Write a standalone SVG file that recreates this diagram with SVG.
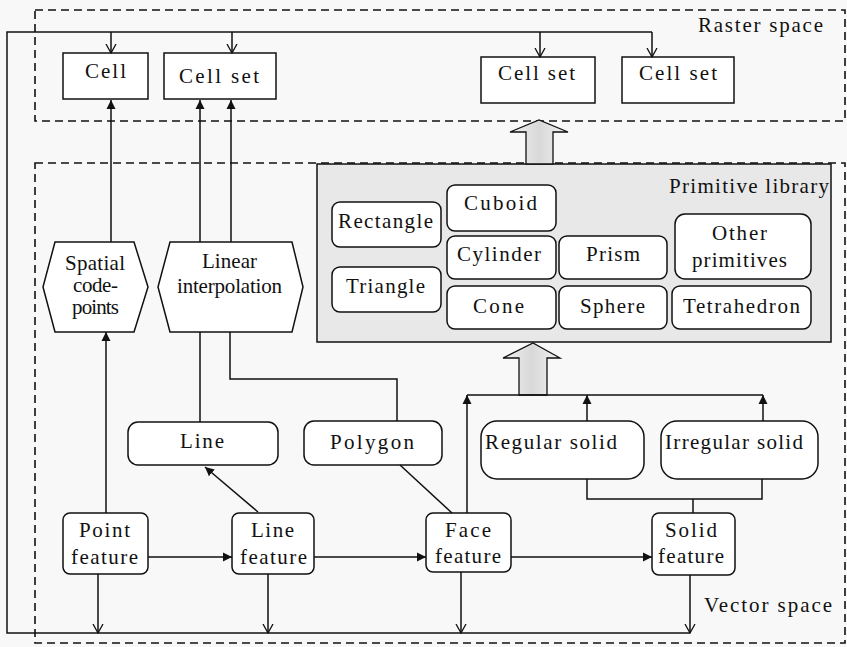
<svg xmlns="http://www.w3.org/2000/svg" width="847" height="647" viewBox="0 0 847 647">
<defs>
<style>
text{font-family:"Liberation Serif","Times New Roman",serif;font-size:21px;fill:#111}
.box{fill:#fff;stroke:#111;stroke-width:1.5}
.dash{fill:none;stroke:#111;stroke-width:1.6;stroke-dasharray:8 5}
.c{fill:none;stroke:#111;stroke-width:1.5}
.big{fill:url(#g);stroke:#111;stroke-width:1.3}
</style>
<linearGradient id="g" x1="0" y1="0" x2="1" y2="0">
<stop offset="0" stop-color="#f2f2f2"/><stop offset="0.5" stop-color="#d8d8d8"/><stop offset="1" stop-color="#f2f2f2"/>
</linearGradient>
<marker id="af" markerUnits="userSpaceOnUse" markerWidth="10" markerHeight="10" refX="9" refY="4.5" orient="auto" viewBox="0 0 10 9">
<path d="M0,0 L9,4.5 L0,9 z" fill="#111"/>
</marker>
<marker id="ao" markerUnits="userSpaceOnUse" markerWidth="10" markerHeight="12" refX="9" refY="5" orient="auto" viewBox="0 0 10 10">
<path d="M0,0 L9,5 L0,10" fill="none" stroke="#111" stroke-width="1.3"/>
</marker>
</defs>
<rect width="847" height="647" fill="#f8f8f8"/>

<g id="raster-space">
<rect class="dash" x="35" y="10" width="810" height="111"/>
<text x="698" y="32" textLength="125" lengthAdjust="spacing">Raster space</text>
</g>
<g id="vector-space">
<rect class="dash" x="35" y="163" width="810" height="480"/>
<text x="704" y="612" textLength="128" lengthAdjust="spacing">Vector space</text>
</g>

<g id="primitive-library">
<rect x="317" y="164" width="514" height="178" fill="#e8e8e8" stroke="#111" stroke-width="1.5"/>
<text x="669" y="193" textLength="160" lengthAdjust="spacing">Primitive library</text>
</g>
<g id="rectangle"><rect class="box" x="332" y="202" width="109" height="45" rx="8"/><text x="338" y="228" textLength="95" lengthAdjust="spacing">Rectangle</text></g>
<g id="triangle"><rect class="box" x="332" y="267" width="109" height="45" rx="8"/><text x="346" y="293" textLength="79" lengthAdjust="spacing">Triangle</text></g>
<g id="cuboid"><rect class="box" x="447" y="185" width="109" height="46" rx="8"/><text x="464" y="210" textLength="73" lengthAdjust="spacing">Cuboid</text></g>
<g id="cylinder"><rect class="box" x="447" y="236" width="109" height="43" rx="8"/><text x="457" y="261" textLength="84" lengthAdjust="spacing">Cylinder</text></g>
<g id="cone"><rect class="box" x="447" y="286" width="109" height="43" rx="8"/><text x="473" y="313" textLength="51" lengthAdjust="spacing">Cone</text></g>
<g id="prism"><rect class="box" x="559" y="236" width="108" height="43" rx="8"/><text x="586" y="261" textLength="54" lengthAdjust="spacing">Prism</text></g>
<g id="sphere"><rect class="box" x="559" y="286" width="108" height="43" rx="8"/><text x="580" y="313" textLength="65" lengthAdjust="spacing">Sphere</text></g>
<g id="other-primitives"><rect class="box" x="675" y="214" width="136" height="65" rx="10"/><text x="712" y="240" textLength="55" lengthAdjust="spacing">Other</text><text x="692" y="267" textLength="95" lengthAdjust="spacing">primitives</text></g>
<g id="tetrahedron"><rect class="box" x="672" y="286" width="139" height="43" rx="8"/><text x="683" y="313" textLength="117" lengthAdjust="spacing">Tetrahedron</text></g>

<g id="cell"><rect class="box" x="63" y="53" width="85" height="46"/><text x="85" y="78" textLength="41" lengthAdjust="spacing">Cell</text></g>
<g id="cell-set-1"><rect class="box" x="164" y="53" width="112" height="46"/><text x="179" y="83" textLength="80" lengthAdjust="spacing">Cell set</text></g>
<g id="cell-set-2"><rect class="box" x="481" y="57" width="114" height="46"/><text x="498" y="80" textLength="77" lengthAdjust="spacing">Cell set</text></g>
<g id="cell-set-3"><rect class="box" x="622" y="57" width="112" height="46"/><text x="639" y="80" textLength="78" lengthAdjust="spacing">Cell set</text></g>

<g id="spatial-code-points"><polygon class="box" points="55,242 134,242 148,287 134,332 55,332 43,287"/><text x="65" y="270" textLength="60" lengthAdjust="spacing">Spatial</text><text x="73" y="292" textLength="45" lengthAdjust="spacing">code-</text><text x="72" y="314" textLength="47" lengthAdjust="spacing">points</text></g>
<g id="linear-interpolation"><polygon class="box" points="170,242 292,242 303,287 292,332 170,332 158,287"/><text x="202" y="268" textLength="55" lengthAdjust="spacing">Linear</text><text x="177" y="293" textLength="105" lengthAdjust="spacing">interpolation</text></g>

<g id="line"><rect class="box" x="128" y="422" width="150" height="43" rx="10"/><text x="180" y="448" textLength="44" lengthAdjust="spacing">Line</text></g>
<g id="polygon"><rect class="box" x="304" y="421" width="138" height="44" rx="10"/><text x="330" y="449" textLength="84" lengthAdjust="spacing">Polygon</text></g>
<g id="regular-solid"><rect class="box" x="481" y="421" width="163" height="58" rx="16"/><text x="485" y="449" textLength="132" lengthAdjust="spacing">Regular solid</text></g>
<g id="irregular-solid"><rect class="box" x="661" y="421" width="157" height="58" rx="16"/><text x="665" y="449" textLength="138" lengthAdjust="spacing">Irregular solid</text></g>

<g id="point-feature"><rect class="box" x="63" y="513" width="85" height="61" rx="7"/><text x="79" y="537" textLength="51" lengthAdjust="spacing">Point</text><text x="71" y="564" textLength="67" lengthAdjust="spacing">feature</text></g>
<g id="line-feature"><rect class="box" x="232" y="513" width="82" height="61" rx="7"/><text x="251" y="537" textLength="43" lengthAdjust="spacing">Line</text><text x="240" y="564" textLength="67" lengthAdjust="spacing">feature</text></g>
<g id="face-feature"><rect class="box" x="426" y="513" width="85" height="59" rx="7"/><text x="445" y="537" textLength="46" lengthAdjust="spacing">Face</text><text x="435" y="563" textLength="66" lengthAdjust="spacing">feature</text></g>
<g id="solid-feature"><rect class="box" x="652" y="513" width="83" height="62" rx="7"/><text x="665" y="537" textLength="52" lengthAdjust="spacing">Solid</text><text x="658" y="563" textLength="66" lengthAdjust="spacing">feature</text></g>

<g id="connectors">
<path class="big" d="M526,164 V132 H510 L539,120 L568,132 H553 V164 Z"/>
<path class="big" d="M519,395 V358 H503 L533,343 L560,358 H547 V395 Z"/>
<path class="c" d="M690,633 H7 V32 H652"/>
<path class="c" marker-end="url(#ao)" d="M111,32 V53"/>
<path class="c" marker-end="url(#ao)" d="M232,32 V53"/>
<path class="c" marker-end="url(#ao)" d="M540,32 V57"/>
<path class="c" marker-end="url(#ao)" d="M652,32 V57"/>
<path class="c" marker-end="url(#ao)" d="M98,574 V633"/>
<path class="c" marker-end="url(#ao)" d="M268,574 V633"/>
<path class="c" marker-end="url(#ao)" d="M461,572 V633"/>
<path class="c" marker-end="url(#ao)" d="M690,575 V633"/>
<path class="c" marker-end="url(#af)" d="M106,513 V332"/>
<path class="c" marker-end="url(#af)" d="M111,242 V100"/>
<path class="c" marker-end="url(#af)" d="M200,242 V100"/>
<path class="c" marker-end="url(#af)" d="M231,242 V100"/>
<path class="c" d="M200,332 V422"/>
<path class="c" d="M230,332 V379 H397 V421"/>
<path class="c" marker-end="url(#af)" d="M258,512 L205,467"/>
<path class="c" d="M400,465 L452,513"/>
<path class="c" marker-end="url(#af)" d="M148,557 H232"/>
<path class="c" marker-end="url(#af)" d="M314,557 H426"/>
<path class="c" marker-end="url(#af)" d="M511,557 H652"/>
<path class="c" marker-end="url(#af)" d="M467,513 V395"/>
<path class="c" d="M467,395 H763"/>
<path class="c" marker-end="url(#af)" d="M587,421 V395"/>
<path class="c" marker-end="url(#af)" d="M763,421 V395"/>
<path class="c" d="M587,479 V499 H762 V479"/>
<path class="c" d="M693,499 V513"/>
</g>
</svg>
